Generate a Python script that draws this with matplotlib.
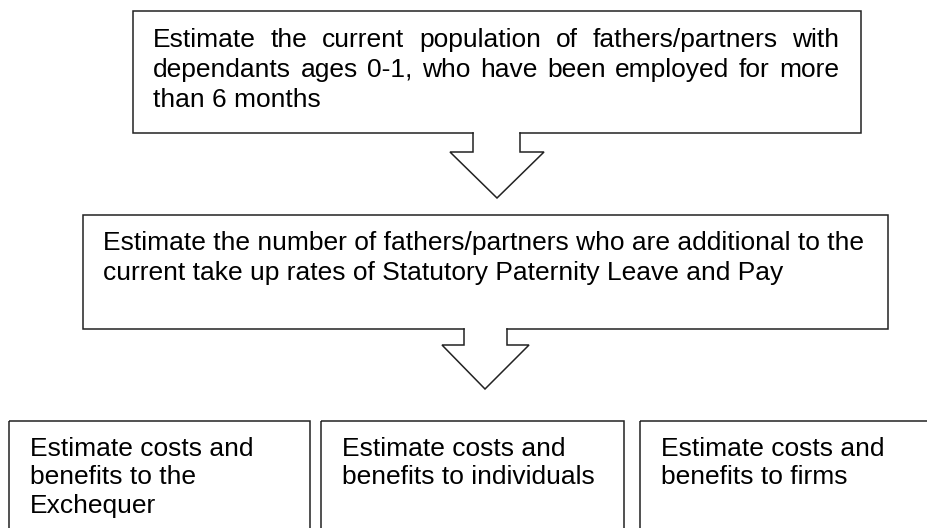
import matplotlib
matplotlib.use("Agg")
import matplotlib.pyplot as plt
from matplotlib.patches import Polygon, Rectangle

# ---- content ----
top_lines = [
    "Estimate the current population of fathers/partners with",
    "dependants ages 0-1, who have been employed for more",
    "than 6 months",
]
mid_lines = [
    "Estimate the number of fathers/partners who are additional to the",
    "current take up rates of Statutory Paternity Leave and Pay",
]
bottom_texts = [
    ["Estimate costs and", "benefits to the", "Exchequer"],
    ["Estimate costs and", "benefits to individuals"],
    ["Estimate costs and", "benefits to firms"],
]

# ---- layout (pixels) ----
W, H = 928, 528
FS = 19
FONT = ["Liberation Sans", "DejaVu Sans"]
LC = "#222222"
LW = 1.1

fig = plt.figure(figsize=(W / 100, H / 100), dpi=100)
ax = fig.add_axes([0, 0, 1, 1])
ax.set_xlim(0, W)
ax.set_ylim(H, 0)
ax.axis("off")


def box(x0, y0, x1, y1):
    ax.add_patch(Rectangle((x0, y0), x1 - x0, y1 - y0, fill=False,
                           edgecolor=LC, linewidth=LW, zorder=2))


def arrow(y_top, sx0, sx1, y_sh, hx0, hx1, tip):
    pts = [(sx0, y_top), (sx0, y_sh), (hx0, y_sh), tip, (hx1, y_sh),
           (sx1, y_sh), (sx1, y_top)]
    ax.add_patch(Polygon([(sx0 + 0.8, y_top - 1.5)] + pts[1:-1] + [(sx1 - 0.8, y_top - 1.5)],
                         closed=True, facecolor="white", edgecolor="none", zorder=3))
    xs, ys = zip(*pts)
    ax.plot(xs, ys, color=LC, linewidth=LW, zorder=4, solid_joinstyle="miter")


# boxes
box(133, 11, 861, 133)
box(83, 215, 888, 329)
box(9, 421, 310, 540)
box(321, 421, 624, 540)
box(640, 421, 940, 540)

# arrows
arrow(133, 473, 520, 152, 450, 544, (497, 198))
arrow(329, 464, 507, 345, 442, 529, (485, 389))

fig.canvas.draw()
renderer = fig.canvas.get_renderer()


def text_width(s):
    t = ax.text(0, 0, s, fontsize=FS, family=FONT)
    w = t.get_window_extent(renderer).width
    t.remove()
    return w


def justified(line, x0, x1, y):
    words = line.split()
    widths = [text_width(w) for w in words]
    gap = (x1 - x0 - sum(widths)) / (len(words) - 1)
    x = x0
    for w, wd in zip(words, widths):
        ax.text(x, y, w, fontsize=FS, family=FONT, va="baseline", ha="left",
                color="black", zorder=5)
        x += wd + gap


# top box text (justified)
justified(top_lines[0], 153, 839, 47)
justified(top_lines[1], 153, 839, 77)
ax.text(153, 107, top_lines[2], fontsize=FS, family=FONT, va="baseline",
        ha="left", color="black", zorder=5)

# middle box text
for i, line in enumerate(mid_lines):
    ax.text(103, 250 + 30 * i, line, fontsize=FS, family=FONT,
            va="baseline", ha="left", color="black", zorder=5)

# bottom boxes text
for x0, lines in zip([30, 342, 661], bottom_texts):
    for i, line in enumerate(lines):
        ax.text(x0, 456 + 28.5 * i, line, fontsize=FS, family=FONT,
                va="baseline", ha="left", color="black", zorder=5)

fig.savefig("out.png", dpi=100, facecolor="white")
